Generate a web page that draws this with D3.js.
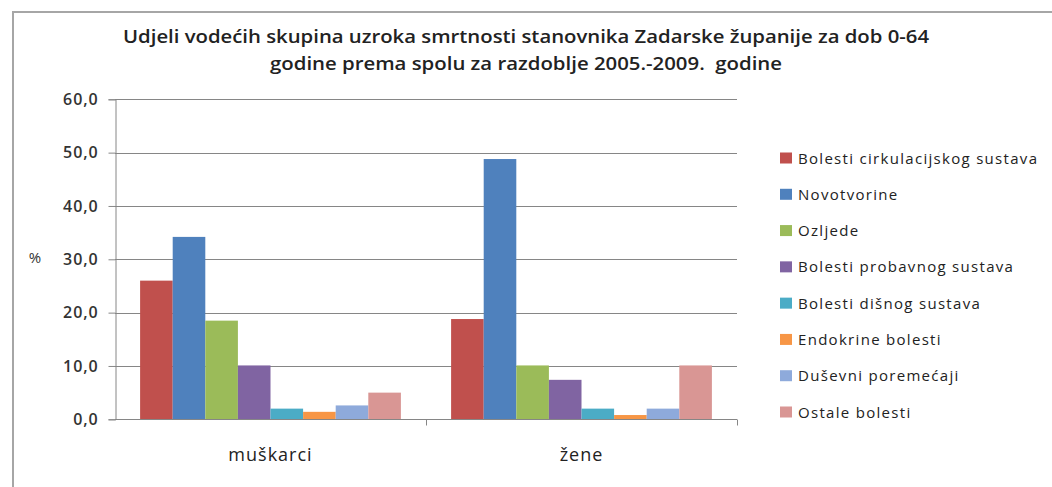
<!DOCTYPE html>
<html>
<head>
<meta charset="utf-8">
<script src="https://cdn.jsdelivr.net/npm/d3@7"></script>
<style>
  html, body { margin: 0; padding: 0; background: #fff; }
  svg { display: block; }
  text { font-family: "Open Sans", "DejaVu Sans", sans-serif; }
</style>
</head>
<body>
<svg id="chart" width="1052" height="487"></svg>
<script>
const categories = ["muškarci", "žene"];
const seriesNames = [
  "Bolesti cirkulacijskog sustava",
  "Novotvorine",
  "Ozljede",
  "Bolesti probavnog sustava",
  "Bolesti dišnog sustava",
  "Endokrine bolesti",
  "Duševni poremećaji",
  "Ostale bolesti"
];
const menValues   = [26.0, 34.2, 18.5, 10.1, 2.0, 1.4, 2.6, 5.0];
const womenValues = [18.8, 48.8, 10.1, 7.4, 2.0, 0.8, 2.0, 10.1];
const seriesColors = ["#C0504D", "#4F81BD", "#9BBB59", "#8064A2", "#4BACC6", "#F79646", "#8EAADB", "#D99694"];
const yTicks = [0, 10, 20, 30, 40, 50, 60];
const titleLines = [
  "Udjeli vodećih skupina uzroka smrtnosti stanovnika Zadarske županije za dob 0-64",
  "godine prema spolu za razdoblje 2005.-2009.  godine"
];
const yAxisLabel = "%";

const valuesByCategory = [menValues, womenValues];

const svg = d3.select("#chart");

// outer chart border (left + top visible)
svg.append("path")
  .attr("d", "M13,490 L13,12 L1060,12")
  .attr("fill", "none")
  .attr("stroke", "#a6a6a6")
  .attr("stroke-width", 2);

const plot = { left: 115, right: 737, top: 99.3, bottom: 419.3 };

const x = d3.scaleBand().domain(categories).range([plot.left, plot.right]).paddingInner(0).paddingOuter(0);
const inner = d3.scaleBand().domain(d3.range(seriesNames.length))
  .range([0, x.bandwidth()]).paddingInner(0).paddingOuter(0.77);
const y = d3.scaleLinear().domain([0, 60]).range([plot.bottom, plot.top]);

// gridlines
svg.append("g")
  .selectAll("line")
  .data(yTicks.filter(d => d > 0))
  .join("line")
  .attr("x1", plot.left).attr("x2", plot.right)
  .attr("y1", d => Math.round(y(d)) + 0.5).attr("y2", d => Math.round(y(d)) + 0.5)
  .attr("stroke", "#868686").attr("stroke-width", 1);

// bars
const groups = svg.append("g").selectAll("g")
  .data(categories)
  .join("g")
  .attr("transform", d => `translate(${x(d)},0)`);

groups.selectAll("rect")
  .data((d, i) => valuesByCategory[i].map((v, j) => ({ v, j })))
  .join("rect")
  .attr("x", d => inner(d.j))
  .attr("width", inner.bandwidth())
  .attr("y", d => y(d.v))
  .attr("height", d => y(0) - y(d.v))
  .attr("fill", d => seriesColors[d.j]);

// y axis
const yAxis = d3.axisLeft(y).tickValues(yTicks)
  .tickFormat(d => d3.format(".1f")(d).replace(".", ","))
  .tickSize(7).tickPadding(10);
const yg = svg.append("g").attr("transform", `translate(${plot.left + 0.5},0)`).call(yAxis);
yg.select(".domain").attr("stroke", "#868686");
yg.selectAll(".tick line").attr("stroke", "#868686");
yg.selectAll(".tick text")
  .attr("font-size", 16).attr("font-weight", 600).attr("fill", "#333")
  .attr("letter-spacing", 0.9)
  .style("font-family", "'Open Sans', sans-serif");

// x axis
const xAxis = d3.axisBottom(x).tickSize(0).tickPadding(0).tickFormat("");
const xg = svg.append("g").attr("transform", `translate(0,${Math.round(plot.bottom) + 0.5})`).call(xAxis);
xg.select(".domain").attr("stroke", "#868686").attr("d", `M${plot.left},0H${plot.right}`);
// boundary tick marks between categories
const boundaries = [x(categories[1]), plot.right];
xg.selectAll(".bnd").data(boundaries).join("line")
  .attr("class", "bnd")
  .attr("x1", d => Math.round(d) + 0.5).attr("x2", d => Math.round(d) + 0.5)
  .attr("y1", 0).attr("y2", 6)
  .attr("stroke", "#868686");

svg.append("g").selectAll("text")
  .data(categories)
  .join("text")
  .attr("x", d => x(d) + x.bandwidth() / 2)
  .attr("y", 461)
  .attr("text-anchor", "middle")
  .attr("font-size", 18)
  .attr("font-weight", 500)
  .attr("letter-spacing", 1.0)
  .attr("fill", "#222")
  .text(d => d);

// y label
svg.append("text")
  .attr("x", 35).attr("y", 263)
  .attr("text-anchor", "middle")
  .attr("font-size", 15)
  .attr("fill", "#333")
  .text(yAxisLabel);

// title
const titleX = [[123, 929], [270, 782]];
svg.append("g").selectAll("text")
  .data(titleLines)
  .join("text")
  .attr("x", (d, i) => titleX[i][0])
  .attr("y", (d, i) => i === 0 ? 43 : 70)
  .attr("textLength", (d, i) => titleX[i][1] - titleX[i][0])
  .attr("lengthAdjust", "spacingAndGlyphs")
  .attr("font-size", 18)
  .attr("font-weight", 600)
  .attr("fill", "#222")
  .style("white-space", "pre")
  .text(d => d);

// legend
const legendY = d3.scalePoint().domain(d3.range(seriesNames.length)).range([158, 412]);
const lg = svg.append("g").selectAll("g")
  .data(seriesNames)
  .join("g")
  .attr("transform", (d, i) => `translate(780,${legendY(i)})`);
lg.append("rect")
  .attr("x", 0).attr("y", -5.5).attr("width", 12).attr("height", 11)
  .attr("fill", (d, i) => seriesColors[i]);
lg.append("text")
  .attr("x", 18).attr("y", 5.5)
  .attr("font-size", 15)
  .attr("letter-spacing", 1.3)
  .attr("fill", "#222")
  .text(d => d);
</script>
</body>
</html>
